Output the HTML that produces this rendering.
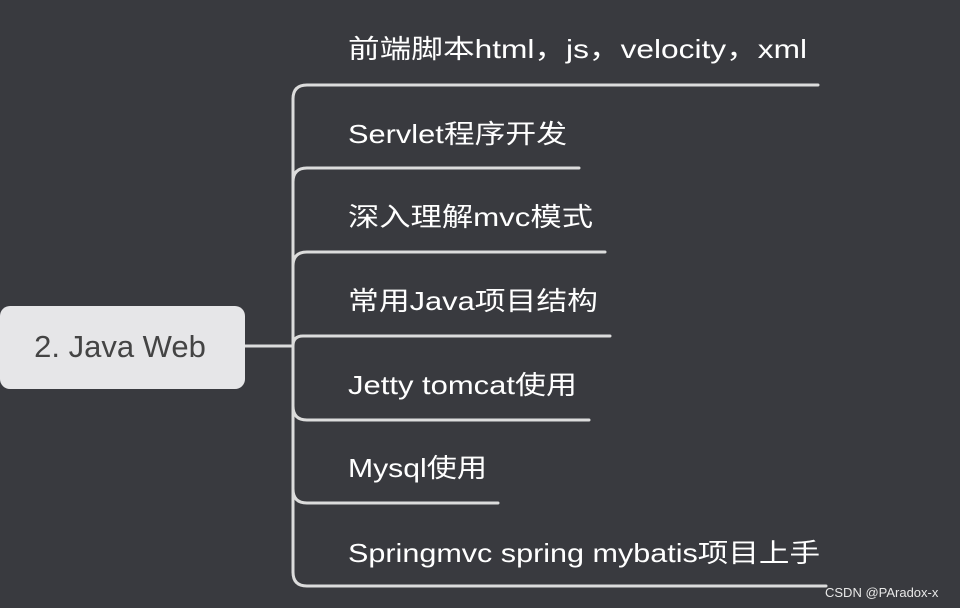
<!DOCTYPE html>
<html><head><meta charset="utf-8"><style>
html,body{margin:0;padding:0;background:#393a3f;width:960px;height:608px;overflow:hidden}
svg{display:block}
text{font-family:"Liberation Sans","Noto Sans CJK SC",sans-serif}
</style></head><body>
<svg width="960" height="608" viewBox="0 0 960 608" xmlns="http://www.w3.org/2000/svg">
<rect width="960" height="608" fill="#393a3f"/>
<g fill="none" stroke="#dcdcdc" stroke-width="3" stroke-linecap="round">
<path d="M245,346 L293,346"/>
<path d="M293,99 L293,572"/>
<path d="M293,99 Q293,85 307,85 L818,85"/>
<path d="M293,182 Q293,168 307,168 L579,168"/>
<path d="M293,266 Q293,252 307,252 L605,252"/>
<path d="M293,346 Q293,336 303,336 L610,336"/>
<path d="M293,406 Q293,420 307,420 L589,420"/>
<path d="M293,489 Q293,503 307,503 L498,503"/>
<path d="M293,572 Q293,586 307,586 L826,586"/>
</g>
<rect x="0" y="306" width="245" height="83" rx="10" fill="#e6e6e8"/>
<text x="120" y="357" font-size="31" fill="#444" text-anchor="middle">2. Java Web</text>
<g fill="#ffffff" font-size="26">
<text x="348" y="58" textLength="459" lengthAdjust="spacingAndGlyphs">前端脚本html，js，velocity，xml</text>
<text x="348" y="143" textLength="219" lengthAdjust="spacingAndGlyphs">Servlet程序开发</text>
<text x="348" y="226" textLength="245" lengthAdjust="spacingAndGlyphs">深入理解mvc模式</text>
<text x="348" y="310" textLength="250" lengthAdjust="spacingAndGlyphs">常用Java项目结构</text>
<text x="348" y="394" textLength="229" lengthAdjust="spacingAndGlyphs">Jetty tomcat使用</text>
<text x="348" y="477" textLength="139" lengthAdjust="spacingAndGlyphs">Mysql使用</text>
<text x="348" y="562" textLength="472" lengthAdjust="spacingAndGlyphs">Springmvc spring mybatis项目上手</text>
</g>
<text x="825" y="597" font-size="13" fill="#e8e8e8">CSDN @PAradox-x</text>
</svg>
</body></html>
